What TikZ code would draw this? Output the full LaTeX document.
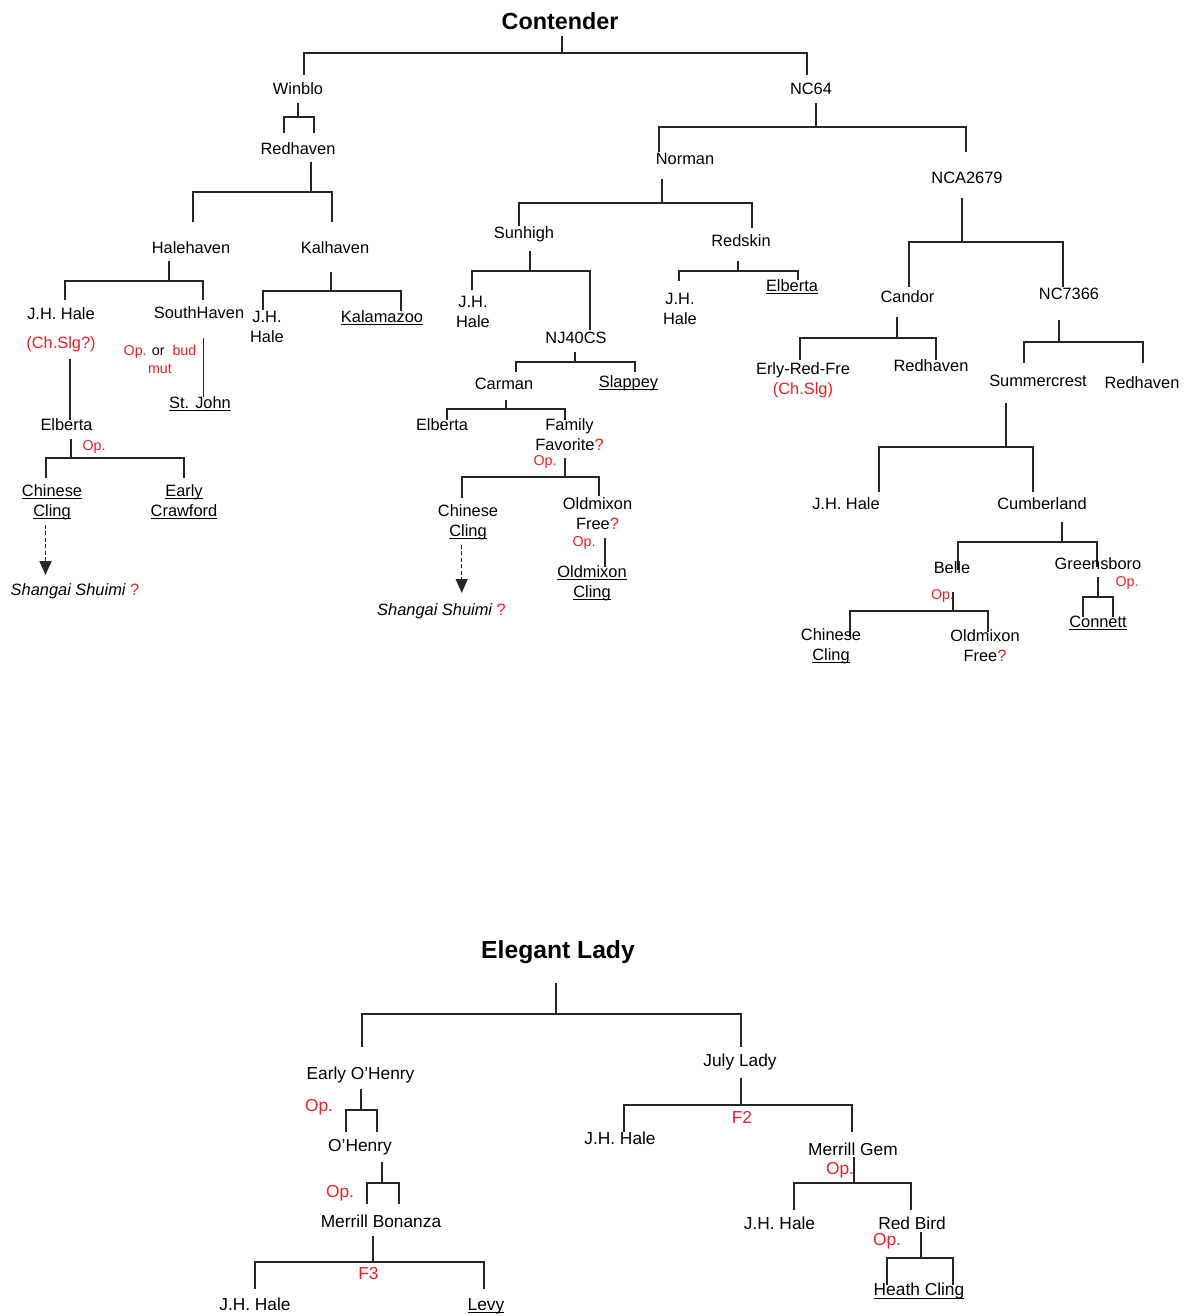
\documentclass[tikz,border=0pt]{standalone}
\usepackage{fontspec}
\setmainfont{Liberation Sans}
\usetikzlibrary{arrows.meta}
\definecolor{opred}{RGB}{237,28,36}
% underline that runs through the descenders
\newcommand{\undl}[1]{\underline{\raisebox{0pt}[\height][0pt]{#1}}}

\begin{document}
\begin{tikzpicture}[x=0.75pt,y=0.75pt,yscale=-1,xscale=1,
  every node/.style={inner sep=0pt,align=center},
  lbl/.style={font=\fontsize{12.3}{15}\selectfont,yshift=-0.75pt},
  small/.style={font=\fontsize{10.7}{13.5}\selectfont,yshift=-0.75pt},
  smallred/.style={small,text=opred},
  redlbl/.style={lbl,text=opred},
  title/.style={font=\fontsize{17.5}{21}\selectfont\bfseries,yshift=-0.75pt},
  blbl/.style={font=\fontsize{13}{16}\selectfont,yshift=-0.75pt},
  bred/.style={blbl,text=opred},
  link/.style={line width=1.1pt,draw=black!85},
  guess/.style={link,dash pattern=on 3pt off 1.8pt,-{Triangle[width=9pt,length=10.5pt]}}]
%set diagram size 1188 x 1316
\useasboundingbox (0,0) rectangle (1188,1316);

%%%%%%%%%%%%%%%%%%%% Contender %%%%%%%%%%%%%%%%%%%%
% Text Node
\node[title] (contender) at (560,20) {Contender};
%Bracket [Contender]
\coordinate (c0) at (562,36); \coordinate (c1) at (562,53);
\coordinate (cl) at (304,75); \coordinate (cr) at (807,75);
\draw[link] (c0) -- (c1) (cl) |- (c1) -| (cr);

% Text Node
\node[lbl] (winblo) at (298,88) {Winblo};
% Text Node
\node[lbl] (nc64) at (811,88) {NC64};

%Bracket [Winblo]
\coordinate (w0) at (298,103); \coordinate (w1) at (298,117);
\coordinate (wl) at (284,133); \coordinate (wr) at (314,133);
\draw[link] (w0) -- (w1) (wl) |- (w1) -| (wr);
% Text Node
\node[lbl] (redhavenA) at (298,148) {Redhaven};
%Bracket [Redhaven]
\coordinate (r0) at (311,162); \coordinate (r1) at (311,192);
\coordinate (rl) at (193,222); \coordinate (rr) at (332,222);
\draw[link] (r0) -- (r1) (rl) |- (r1) -| (rr);
% Text Node
\node[lbl] (halehaven) at (191,247) {Halehaven};
% Text Node
\node[lbl] (kalhaven) at (335,247) {Kalhaven};

%Bracket [Halehaven]
\coordinate (h0) at (169,261); \coordinate (h1) at (169,281);
\coordinate (hl) at (65,300); \coordinate (hr) at (203,300);
\draw[link] (h0) -- (h1) (hl) |- (h1) -| (hr);
% Text Node
\node[lbl] (haleA) at (61,313) {J.H. Hale};
\node[redlbl] (chslgA) at (61,343) {(Ch.Slg?)};
% Text Node
\node[lbl] (southhaven) at (199,312) {SouthHaven};
\node[small] (opbud) at (160,358) {\textcolor{opred}{Op.} or\ \ \textcolor{opred}{bud}\\\textcolor{opred}{mut}};

%Bracket [Kalhaven]
\coordinate (k0) at (331,272); \coordinate (k1) at (331,291);
\coordinate (kl) at (263,310); \coordinate (kr) at (401,311);
\draw[link] (k0) -- (k1) (kl) |- (k1) -| (kr);
% Text Node
\node[lbl] (haleB) at (267,326) {J.H.\\Hale};
% Text Node
\node[lbl] (kalamazoo) at (382,317) {\undl{Kalamazoo}};

%Straight Lines [J.H. Hale - Elberta]
\coordinate (e0) at (70,359); \coordinate (e1) at (70,420);
\draw[link] (e0) -- (e1);
%Straight Lines [SouthHaven - St. John]
\coordinate (s0) at (203.5,338); \coordinate (s1) at (203.5,397);
\draw[link] (s0) -- (s1);
% Text Node
\node[lbl] (stjohn) at (200,403) {\undl{St. John}};
% Text Node
\node[lbl] (elbertaA) at (66.5,424) {Elberta};
\node[smallred] (opA) at (94,446) {Op.};

%Bracket [Elberta]
\coordinate (eb0) at (71,439); \coordinate (eb1) at (71,458);
\coordinate (ebl) at (46,478); \coordinate (ebr) at (184,478);
\draw[link] (eb0) -- (eb1) (ebl) |- (eb1) -| (ebr);
% Text Node
\node[lbl] (chineseA) at (52,501) {\undl{Chinese}\\\undl{Cling}};
% Text Node
\node[lbl] (crawford) at (184,501) {\undl{Early}\\\undl{Crawford}};
%Dashed Arrow
\coordinate (ga) at (45.5,525); \coordinate (gb) at (45.5,575);
\draw[guess] (ga) -- (gb);
% Text Node
\node[lbl] (shangaiA) at (75,590) {{\itshape Shangai Shuimi} \textcolor{opred}{?}};

%Bracket [NC64]
\coordinate (n0) at (816,103); \coordinate (n1) at (816,127);
\coordinate (nl) at (659,152); \coordinate (nr) at (966,152);
\draw[link] (n0) -- (n1) (nl) |- (n1) -| (nr);
% Text Node
\node[lbl] (norman) at (685,158) {Norman};
% Text Node
\node[lbl] (nca) at (967,177) {NCA2679};

%Bracket [Norman]
\coordinate (no0) at (662,179); \coordinate (no1) at (662,203);
\coordinate (nol) at (519,226); \coordinate (nor) at (752,228);
\draw[link] (no0) -- (no1) (nol) |- (no1) -| (nor);
% Text Node
\node[lbl] (sunhigh) at (524,233) {Sunhigh};
% Text Node
\node[lbl] (redskin) at (741,240) {Redskin};

%Bracket [Sunhigh]
\coordinate (su0) at (530,251); \coordinate (su1) at (530,271);
\coordinate (sul) at (472,290); \coordinate (sur) at (590,330);
\draw[link] (su0) -- (su1) (sul) |- (su1) -| (sur);
% Text Node
\node[lbl] (haleC) at (473,311) {J.H.\\Hale};
% Text Node
\node[lbl] (nj40cs) at (576,337) {NJ40CS};

%Bracket [Redskin]
\coordinate (rs0) at (738,261); \coordinate (rs1) at (738,271);
\coordinate (rsl) at (679,281); \coordinate (rsr) at (798,280);
\draw[link] (rs0) -- (rs1) (rsl) |- (rs1) -| (rsr);
% Text Node
\node[lbl] (haleD) at (680,307.5) {J.H.\\Hale};
% Text Node
\node[lbl] (elbertaB) at (792,286) {\undl{Elberta}};

%Bracket [NJ40CS]
\coordinate (nj0) at (575,352); \coordinate (nj1) at (575,362);
\coordinate (njl) at (516,372); \coordinate (njr) at (635,372);
\draw[link] (nj0) -- (nj1) (njl) |- (nj1) -| (njr);
% Text Node
\node[lbl] (carman) at (504,383) {Carman};
% Text Node
\node[lbl] (slappey) at (628.5,382) {\undl{Slappey}};

%Bracket [Carman]
\coordinate (ca0) at (506,400); \coordinate (ca1) at (506,409);
\coordinate (cal) at (447,420); \coordinate (car) at (565,420);
\draw[link] (ca0) -- (ca1) (cal) |- (ca1) -| (car);
% Text Node
\node[lbl] (elbertaC) at (442,424) {Elberta};
% Text Node
\node[lbl] (family) at (569.5,434) {Family\\Favorite\textcolor{opred}{?}};
\node[smallred] (opB) at (545,461) {Op.};

%Bracket [Family Favorite]
\coordinate (ff0) at (565,458); \coordinate (ff1) at (565,477);
\coordinate (ffl) at (462,498); \coordinate (ffr) at (599,496);
\draw[link] (ff0) -- (ff1) (ffl) |- (ff1) -| (ffr);
% Text Node
\node[lbl] (chineseB) at (468,521) {Chinese\\\undl{Cling}};
% Text Node
\node[lbl] (oldfreeA) at (597.5,513) {Oldmixon\\Free\textcolor{opred}{?}};
\node[smallred] (opC) at (584,542) {Op.};
%Straight Lines [Oldmixon Free - Oldmixon Cling]
\coordinate (of0) at (605,538); \coordinate (of1) at (605,567);
\draw[link] (of0) -- (of1);
% Text Node
\node[lbl] (oldcling) at (592,582) {\undl{Oldmixon}\\\undl{Cling}};
%Dashed Arrow
\coordinate (gc) at (461.7,545); \coordinate (gd) at (461.7,593);
\draw[guess] (gc) -- (gd);
% Text Node
\node[lbl] (shangaiB) at (441.5,610) {{\itshape Shangai Shuimi} \textcolor{opred}{?}};

%Bracket [NCA2679]
\coordinate (na0) at (962,198); \coordinate (na1) at (962,242);
\coordinate (nal) at (909,287); \coordinate (nar) at (1063,287);
\draw[link] (na0) -- (na1) (nal) |- (na1) -| (nar);
% Text Node
\node[lbl] (candor) at (907.5,296) {Candor};
% Text Node
\node[lbl] (nc7366) at (1069,293) {NC7366};

%Bracket [Candor]
\coordinate (cd0) at (897,317); \coordinate (cd1) at (897,338);
\coordinate (cdl) at (800,360); \coordinate (cdr) at (936,360);
\draw[link] (cd0) -- (cd1) (cdl) |- (cd1) -| (cdr);
% Text Node
\node[lbl] (erly) at (803,379) {Erly-Red-Fre\\\textcolor{opred}{(Ch.Slg)}};
% Text Node
\node[lbl] (redhavenB) at (931,365) {Redhaven};

%Bracket [NC7366]
\coordinate (nc0) at (1059,320); \coordinate (nc1) at (1059,342);
\coordinate (ncl) at (1024,363); \coordinate (ncr) at (1143,363);
\draw[link] (nc0) -- (nc1) (ncl) |- (nc1) -| (ncr);
% Text Node
\node[lbl] (summercrest) at (1038,380) {Summercrest};
% Text Node
\node[lbl] (redhavenC) at (1142,382) {Redhaven};

%Bracket [Summercrest]
\coordinate (sc0) at (1006,403); \coordinate (sc1) at (1006,447);
\coordinate (scl) at (879,492); \coordinate (scr) at (1033,492);
\draw[link] (sc0) -- (sc1) (scl) |- (sc1) -| (scr);
% Text Node
\node[lbl] (haleE) at (846,503) {J.H. Hale};
% Text Node
\node[lbl] (cumberland) at (1042,503) {Cumberland};

%Bracket [Cumberland]
\coordinate (cu0) at (1062,522); \coordinate (cu1) at (1062,542);
\coordinate (cul) at (958,570); \coordinate (cur) at (1097,567);
\draw[link] (cu0) -- (cu1) (cul) |- (cu1) -| (cur);
% Text Node
\node[lbl] (belle) at (952,567) {Belle};
\node[smallred] (opD) at (942.5,595) {Op.};
% Text Node
\node[lbl] (greensboro) at (1098,563) {Greensboro};
\node[smallred] (opE) at (1127,582) {Op.};

%Bracket [Belle]
\coordinate (be0) at (953,592); \coordinate (be1) at (953,611);
\coordinate (bel) at (850,637); \coordinate (ber) at (988,632);
\draw[link] (be0) -- (be1) (bel) |- (be1) -| (ber);
% Text Node
\node[lbl] (chineseC) at (831,645) {Chinese\\\undl{Cling}};
% Text Node
\node[lbl] (oldfreeB) at (985,645) {Oldmixon\\Free\textcolor{opred}{?}};

%Bracket [Greensboro]
\coordinate (gr0) at (1098,577); \coordinate (gr1) at (1098,597);
\coordinate (grl) at (1083,617); \coordinate (grr) at (1113,617);
\draw[link] (gr0) -- (gr1) (grl) |- (gr1) -| (grr);
% Text Node
\node[lbl] (connett) at (1098,622) {\undl{Connett}};

%%%%%%%%%%%%%%%%%%%% Elegant Lady %%%%%%%%%%%%%%%%%%%%
% Text Node
\node[title,font=\fontsize{18.5}{22}\selectfont\bfseries] (elegant) at (558,951) {Elegant Lady};
%Bracket [Elegant Lady]
\coordinate (el0) at (556,983); \coordinate (el1) at (556,1014);
\coordinate (ell) at (362,1047); \coordinate (elr) at (741,1047);
\draw[link] (el0) -- (el1) (ell) |- (el1) -| (elr);
% Text Node
\node[blbl] (earlyoh) at (360.5,1074) {Early O’Henry};
\node[bred] (opF) at (319,1106) {Op.};
% Text Node
\node[blbl] (julylady) at (740,1061) {July Lady};

%Bracket [Early O'Henry]
\coordinate (eo0) at (361,1089); \coordinate (eo1) at (361,1110);
\coordinate (eol) at (346,1132); \coordinate (eor) at (377,1132);
\draw[link] (eo0) -- (eo1) (eol) |- (eo1) -| (eor);
% Text Node
\node[blbl] (ohenry) at (360,1146) {O’Henry};
\node[bred] (opG) at (340,1192) {Op.};

%Bracket [O'Henry]
\coordinate (oh0) at (382,1162); \coordinate (oh1) at (382,1183);
\coordinate (ohl) at (367,1204); \coordinate (ohr) at (399,1204);
\draw[link] (oh0) -- (oh1) (ohl) |- (oh1) -| (ohr);
% Text Node
\node[blbl] (bonanza) at (381,1220) {Merrill Bonanza};

%Bracket [Merrill Bonanza]
\coordinate (mb0) at (373,1236); \coordinate (mb1) at (373,1262);
\coordinate (mbl) at (255,1289); \coordinate (mbr) at (484,1289);
\draw[link] (mb0) -- (mb1) (mbl) |- (mb1) -| (mbr);
\node[bred] (fthree) at (368.5,1273) {F3};
% Text Node
\node[blbl] (haleF) at (255,1303) {J.H. Hale};
% Text Node
\node[blbl] (levy) at (486,1305) {\undl{Levy}};

%Bracket [July Lady]
\coordinate (jl0) at (741,1078); \coordinate (jl1) at (741,1105);
\coordinate (jll) at (624,1132); \coordinate (jlr) at (852,1132);
\draw[link] (jl0) -- (jl1) (jll) |- (jl1) -| (jlr);
\node[bred] (ftwo) at (742,1116) {F2};
% Text Node
\node[blbl] (haleG) at (620,1137) {J.H. Hale};
% Text Node
\node[blbl] (merrillgem) at (853,1148) {Merrill Gem};
\node[bred] (opH) at (840,1169) {Op.};

%Bracket [Merrill Gem]
\coordinate (mg0) at (854,1157); \coordinate (mg1) at (854,1183);
\coordinate (mgl) at (794,1210); \coordinate (mgr) at (911,1210);
\draw[link] (mg0) -- (mg1) (mgl) |- (mg1) -| (mgr);
% Text Node
\node[blbl] (haleH) at (779.5,1222) {J.H. Hale};
% Text Node
\node[blbl] (redbird) at (912,1222) {Red Bird};
\node[bred] (opI) at (887,1240) {Op.};

%Bracket [Red Bird]
\coordinate (rb0) at (921,1232); \coordinate (rb1) at (921,1258);
\coordinate (rbl) at (887,1285); \coordinate (rbr) at (953,1285);
\draw[link] (rb0) -- (rb1) (rbl) |- (rb1) -| (rbr);
% Text Node
\node[blbl] (heath) at (919,1290) {\undl{Heath Cling}};

\end{tikzpicture}
\end{document}
